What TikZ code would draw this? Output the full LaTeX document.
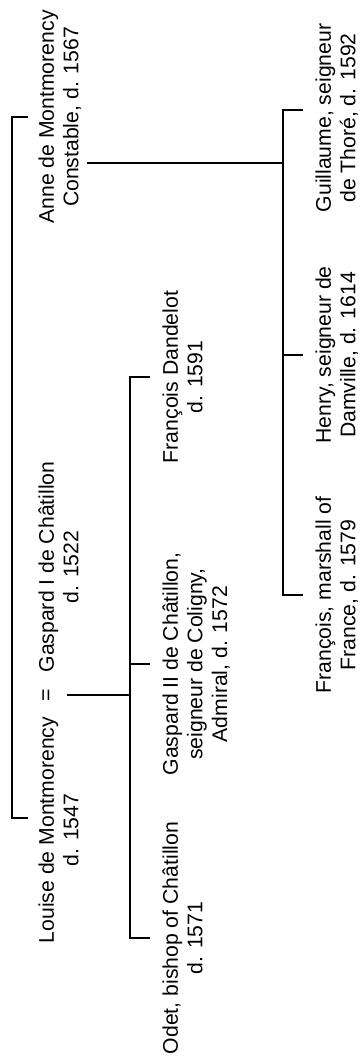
\documentclass[tikz,border=0pt]{standalone}
\usepackage{fontspec}
\setmainfont{Liberation Sans}

\tikzset{
  person/.style={rotate=90, anchor=north, inner sep=0pt, align=center,
    font=\fontsize{10.6}{12.3}\selectfont},
  tree/.style={line width=0.7pt},
}

\begin{document}
\begin{tikzpicture}[x=0.5pt, y=-0.5pt]
  \useasboundingbox (0,0) rectangle (359,1064);
  % 1대
  \node[person] (anne)    at (38,117) {Anne de Montmorency\\Constable, d. 1567};
  \node[person] (louise)  at (38,830) {Louise de Montmorency\\d. 1547};
  \node[person] (eq)      at (38,695) {\vphantom{L}=};
  \node[person] (gaspard) at (38,567) {Gaspard I de Châtillon\\d. 1522};
  % 샤티용 자녀
  \node[person] (dandelot)  at (162,377) {François Dandelot\\d. 1591};
  \node[person] (gaspardii) at (162,664) {Gaspard II de Châtillon,\\seigneur de Coligny,\\Admiral, d. 1572};
  \node[person] (odet)      at (162,938) {Odet, bishop of Châtillon\\d. 1571};
  % 몽모랑시 자녀
  \node[person] (guillaume) at (315,118) {Guillaume, seigneur\\de Thoré, d. 1592};
  \node[person] (henry)     at (315,355) {Henry, seigneur de\\Damville, d. 1614};
  \node[person] (francois)  at (315,595) {François, marshall of\\France, d. 1579};
  % 최상위 가지
  \draw[tree] ([xshift=-5pt]anne.north) -- ++(-16,0) |- ([xshift=-5pt,yshift=6pt]louise.north);
  % 샤티용 가지
  \draw[tree] ([xshift=7pt]eq.south) -- ([xshift=-16pt]gaspardii.north |- eq.south);
  \draw[tree] ([xshift=-6pt]dandelot.north) -- ++(-20,0) |- ([xshift=-6pt]odet.north);
  \draw[tree] ([xshift=-6pt]gaspardii.north) -- ++(-20,0);
  % 몽모랑시 가지
  \coordinate (annedrop) at (87,163);
  \draw[tree] (annedrop) -- ([xshift=-16pt]henry.north |- annedrop);
  \draw[tree] ([xshift=-6pt,yshift=4pt]guillaume.north) -- ++(-20,0) |- ([xshift=-6pt]francois.north);
  \draw[tree] ([xshift=-6pt]henry.north) -- ++(-20,0);
\end{tikzpicture}
\end{document}
